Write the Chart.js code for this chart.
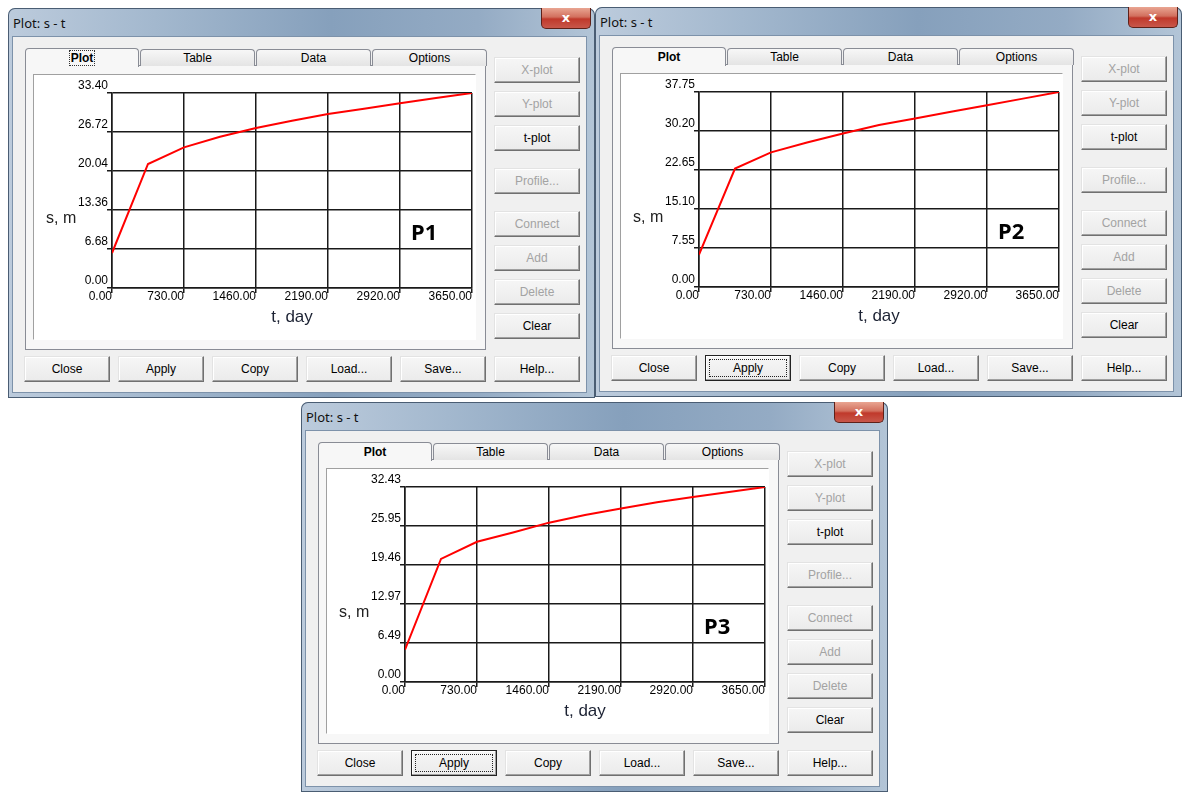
<!DOCTYPE html>
<html>
<head>
<meta charset="utf-8">
<title>Plot: s - t</title>
<script src="https://cdn.jsdelivr.net/npm/chart.js@4.4.1/dist/chart.umd.min.js"></script>
<style>
  body { margin:0; width:1182px; height:792px; background:#fff; position:relative; overflow:hidden;
         font-family:"Liberation Sans", Arial, sans-serif; }
  .win { position:absolute; width:587px; height:390px; border-radius:7px 7px 0 0;
         background:linear-gradient(to right, #bccbdc 0%, #a3b8ce 25%, #86a0bc 55%, #94abc4 80%, #b3c5d7 100%);
         box-shadow:inset 0 0 0 1px #4a5d73; }
  .title { position:absolute; left:5px; top:6px; font:13px "Noto Sans", sans-serif; color:#111; }
  .xbtn { position:absolute; left:533px; top:0; width:50px; height:21px; box-sizing:border-box;
          border:1px solid #5e2119; border-top:none; border-radius:0 0 5px 5px;
          background:linear-gradient(#e9a592, #d2705e 45%, #c0392b 55%, #c8574a);
          color:#fff; font:bold 13px "DejaVu Sans", sans-serif; text-align:center; line-height:19px; }
  .client { position:absolute; left:5px; top:29px; width:573px; height:355px; background:#f0f0f0;
            box-shadow:0 0 0 1px #7d92aa; }
  .tab { position:absolute; top:41px; height:16px; border:1px solid #898c95; border-bottom:none;
         border-radius:4px 4px 0 0; background:linear-gradient(#f7f7f7, #e4e4e4);
         font-size:12px; text-align:center; line-height:16px; color:#000; }
  .tab.sel { top:40px; height:18px; background:#f7f7f7; font-weight:bold; z-index:2; line-height:18px; }
  .tab .focus { border:1px dotted #333; padding:0 1px; }
  .tabbody { position:absolute; left:17px; top:57px; width:459px; height:283px; border:1px solid #898c95;
             background:#f7f7f7; }
  .plotbox { position:absolute; left:25px; top:66px; width:443px; height:266px; box-sizing:border-box;
             border:1px solid; border-color:#a0a0a0 #fff #fff #a0a0a0; background:#fff; }
  .plotbox canvas { position:absolute; left:0; top:0; }
  .ylab { position:absolute; left:38px; top:201px; font:16px "Liberation Sans", Arial, sans-serif; color:#222; }
  .pname { position:absolute; left:403px; top:212px; font:bold 22px/22px "Noto Sans", "Open Sans", sans-serif; color:#000; }
  .btn { position:absolute; width:86px; height:26px; box-sizing:border-box; border:1px solid;
         border-color:#e3e3e3 #707070 #707070 #e3e3e3; background:linear-gradient(#f6f6f6, #ebebeb);
         box-shadow:inset -1px -1px 0 #a0a0a0, inset 1px 1px 0 #fff;
         font-size:12px; text-align:center; line-height:24px; color:#000; }
  .btn.dis { color:#a3a3a3; }
  .btn.def { border-color:#222; }
  .btn.def::after { content:''; position:absolute; left:3px; top:3px; right:3px; bottom:3px; border:1px dotted #222; }
</style>
</head>
<body>
<script>
// values (one point per year)
const tDays = [0, 365, 730, 1095, 1460, 1825, 2190, 2555, 2920, 3285, 3650];
const sP1 = [5.99, 21.24, 24.09, 25.92, 27.40, 28.66, 29.80, 30.72, 31.63, 32.54, 33.40];
const sP2 = [6.26, 22.93, 26.06, 27.98, 29.70, 31.36, 32.64, 33.92, 35.19, 36.47, 37.75];
const sP3 = [5.38, 20.47, 23.32, 24.86, 26.50, 27.77, 28.86, 29.91, 30.78, 31.61, 32.43];

const xTicks = [0, 730, 1460, 2190, 2920, 3650];
const yTicksP1 = [0, 6.68, 13.36, 20.04, 26.72, 33.40];
const yTicksP2 = [0, 7.55, 15.10, 22.65, 30.20, 37.75];
const yTicksP3 = [0, 6.49, 12.97, 19.46, 25.95, 32.43];

const panelNames = ['P1', 'P2', 'P3'];
const tabNames = ['Plot', 'Table', 'Data', 'Options'];
const sideButtons = ['X-plot', 'Y-plot', 't-plot', 'Profile...', 'Connect', 'Add', 'Delete', 'Clear'];
const sideEnabled = ['t-plot', 'Clear'];
const bottomButtons = ['Close', 'Apply', 'Copy', 'Load...', 'Save...', 'Help...'];

const tickFont = { family: 'Liberation Sans', size: 12 };
const gridStyle = { color: '#1a1a1a', lineWidth: 1.5, tickLength: 5, tickColor: '#1a1a1a' };

function drawPlot(canvas, sValues, yTicks) {
  return new Chart(canvas, {
    type: 'line',
    data: {
      datasets: [{
        data: tDays.map((t, i) => ({ x: t, y: sValues[i] })),
        borderColor: '#ff0000',
        borderWidth: 2,
        pointRadius: 0,
        tension: 0,
        fill: false
      }]
    },
    options: {
      responsive: false,
      animation: false,
      events: [],
      layout: { padding: { left: 0, top: 18, right: 3, bottom: 11 } },
      plugins: { legend: { display: false }, tooltip: { enabled: false } },
      scales: {
        x: {
          type: 'linear',
          min: xTicks[0],
          max: xTicks[xTicks.length - 1],
          afterBuildTicks: ax => { ax.ticks = xTicks.map(v => ({ value: v })); },
          afterFit: ax => { ax.height = 40; },
          grid: gridStyle,
          border: { color: '#1a1a1a', width: 1.5 },
          ticks: {
            align: 'end', padding: -4, maxRotation: 0, autoSkip: false,
            color: '#000', font: tickFont, callback: v => v.toFixed(2)
          },
          title: {
            display: true, text: 't, day', color: '#1c2233', padding: 0,
            font: { family: 'Liberation Sans', size: 17 }
          }
        },
        y: {
          min: yTicks[0],
          max: yTicks[yTicks.length - 1],
          afterBuildTicks: ax => { ax.ticks = yTicks.map(v => ({ value: v })); },
          afterFit: ax => { ax.width = 78; },
          grid: gridStyle,
          border: { color: '#1a1a1a', width: 1.5 },
          ticks: {
            padding: -1, labelOffset: -7, autoSkip: false,
            color: '#000', font: tickFont, callback: v => v.toFixed(2)
          }
        }
      }
    }
  });
}

function buildWindow(left, top, name, sValues, yTicks, focusOnTab) {
  const win = document.createElement('div');
  win.className = 'win';
  win.style.left = left + 'px';
  win.style.top = top + 'px';

  let html = '<div class="title">Plot: s - t</div><div class="xbtn">x</div><div class="client"></div>';
  html += '<div class="tabbody"></div>';

  const tabLeft = [17, 132, 248, 364];
  tabNames.forEach((t, i) => {
    const w = i === 0 ? 112 : 113;
    const txt = (i === 0 && focusOnTab) ? `<span class="focus">${t}</span>` : t;
    html += `<div class="tab${i === 0 ? ' sel' : ''}" style="left:${tabLeft[i]}px;width:${w}px">${txt}</div>`;
  });

  html += `<div class="plotbox"><canvas width="441" height="264" style="width:441px;height:264px"></canvas></div>`;
  html += `<div class="ylab">s, m</div><div class="pname">${name}</div>`;

  const sideTop = [49, 83, 117, 160, 203, 237, 271, 305];
  sideButtons.forEach((b, i) => {
    const dis = sideEnabled.includes(b) ? '' : ' dis';
    html += `<div class="btn${dis}" style="left:486px;top:${sideTop[i]}px">${b}</div>`;
  });

  const bottomLeft = [16, 110, 204, 298, 392, 486];
  bottomButtons.forEach((b, i) => {
    const def = (b === 'Apply' && !focusOnTab) ? ' def' : '';
    html += `<div class="btn${def}" style="left:${bottomLeft[i]}px;top:348px">${b}</div>`;
  });

  win.innerHTML = html;
  document.body.appendChild(win);
  drawPlot(win.querySelector('canvas'), sValues, yTicks);
}

buildWindow(8, 8, panelNames[0], sP1, yTicksP1, true);
buildWindow(595, 7, panelNames[1], sP2, yTicksP2, false);
buildWindow(301, 402, panelNames[2], sP3, yTicksP3, false);
</script>
</body>
</html>
